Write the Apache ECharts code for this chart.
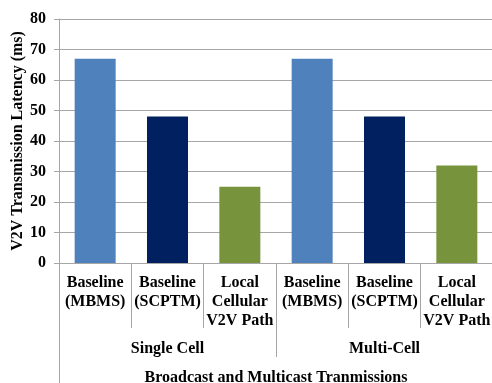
<!DOCTYPE html>
<html><head><meta charset="utf-8">
<script src="https://cdn.jsdelivr.net/npm/echarts@6/dist/echarts.min.js"></script>
<style>html,body{margin:0;padding:0;background:#fff}#c{width:492px;height:383px}</style>
</head><body><div id="c"></div>
<script>
const categories = ["Baseline\n(MBMS)", "Baseline\n(SCPTM)", "Local\nCellular\nV2V Path", "Baseline\n(MBMS)", "Baseline\n(SCPTM)", "Local\nCellular\nV2V Path"];
const groups = ["Single Cell", "Multi-Cell"];
const outerGroup = ["Broadcast and Multicast Tranmissions"];
const latency = [67, 48, 25, 67, 48, 32];
const yTicks = [0, 10, 20, 30, 40, 50, 60, 70, 80];
const palette = ["#4F81BD", "#002060", "#77933C"];

const font = "'Liberation Serif', 'Times New Roman', serif";
const gray = "#A6A6A6";
const chart = echarts.init(document.getElementById('c'));
const lbl = {fontFamily: font, fontWeight: 'bold', fontSize: 16, color: '#000', lineHeight: 19};
chart.setOption({
  animation: false,
  grid: {left: 59, right: -1, top: 19, bottom: 120, containLabel: false, outerBoundsMode: 'none'},
  xAxis: [
    {type: 'category', data: categories, position: 'bottom',
     axisLine: {show: true, lineStyle: {color: gray}},
     axisTick: {show: true, length: 65, interval: 0, lineStyle: {color: gray}},
     axisLabel: Object.assign({interval: 0, margin: 10, align: 'center'}, lbl)},
    {type: 'category', data: groups, position: 'bottom', gridIndex: 0,
     axisLine: {show: false},
     axisTick: {show: true, length: 94, interval: 0, lineStyle: {color: gray}},
     axisLabel: Object.assign({interval: 0, margin: 76}, lbl)},
    {type: 'category', data: outerGroup, position: 'bottom', gridIndex: 0,
     axisLine: {show: false},
     axisTick: {show: true, length: 125, interval: 0, lineStyle: {color: gray}},
     axisLabel: Object.assign({interval: 0, margin: 105}, lbl)}
  ],
  yAxis: {type: 'value', min: yTicks[0], max: yTicks[yTicks.length - 1], interval: 10,
    name: 'V2V Transmission Latency (ms)', nameLocation: 'middle', nameGap: 33, nameMoveOverlap: false,
    nameTextStyle: {fontFamily: font, fontWeight: 'bold', fontSize: 16, color: '#000'},
    axisLine: {show: true, lineStyle: {color: gray}},
    axisTick: {show: true, length: 5, lineStyle: {color: gray}},
    axisLabel: {fontFamily: font, fontWeight: 'bold', fontSize: 16, color: '#000', margin: 13},
    splitLine: {show: true, lineStyle: {color: gray, width: 1}}},
  series: [{type: 'bar', xAxisIndex: 0, barWidth: 41,
    data: latency.map((v, i) => ({value: v, itemStyle: {color: palette[i % 3]}}))}]
});
</script></body></html>
